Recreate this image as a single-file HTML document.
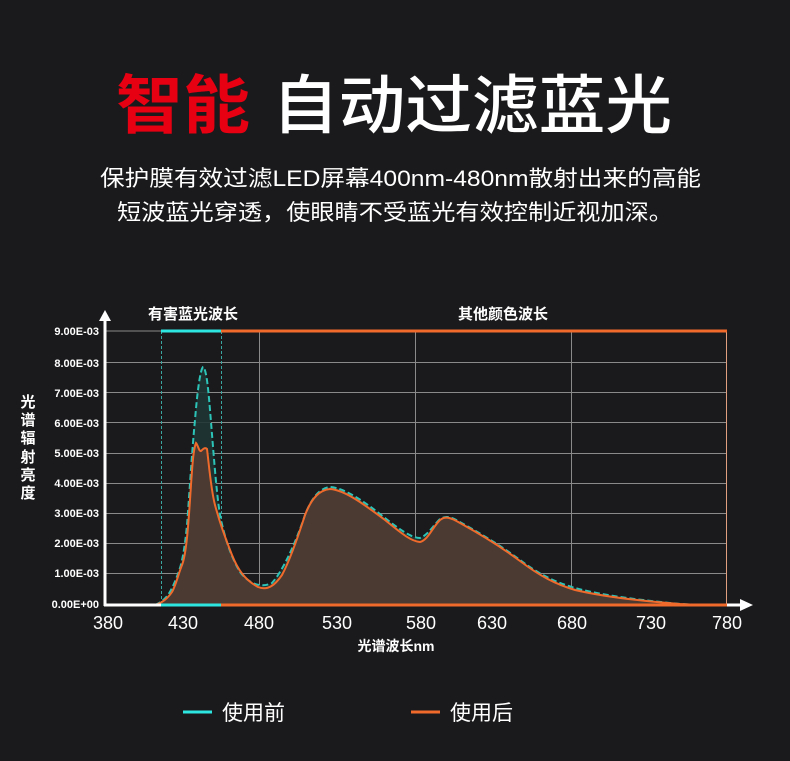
<!DOCTYPE html>
<html><head><meta charset="utf-8"><style>
html,body{margin:0;padding:0;background:#1a191b;}
svg{display:block;}
text{font-family:"Liberation Sans","Noto Sans CJK SC",sans-serif;}
</style></head><body>
<svg width="790" height="761" viewBox="0 0 790 761" xmlns="http://www.w3.org/2000/svg">
<rect width="790" height="761" fill="#1a191b"/>
<text x="116" y="128" font-size="64" font-weight="bold" fill="#e60012" textLength="134" lengthAdjust="spacingAndGlyphs">智能</text>
<text x="272" y="128" font-size="64" font-weight="500" fill="#ffffff" textLength="400" lengthAdjust="spacingAndGlyphs">自动过滤蓝光</text>
<text x="100" y="186" font-size="22" fill="#ffffff" textLength="601" lengthAdjust="spacingAndGlyphs">保护膜有效过滤LED屏幕400nm-480nm散射出来的高能</text>
<text x="117" y="220" font-size="22" fill="#ffffff" textLength="556" lengthAdjust="spacingAndGlyphs">短波蓝光穿透，使眼睛不受蓝光有效控制近视加深。</text>

<!-- grid -->
<g stroke="#8a8a8a" stroke-width="1">
<line x1="105" y1="331" x2="727" y2="331"/>
<line x1="105" y1="362.5" x2="727" y2="362.5"/>
<line x1="105" y1="392.5" x2="727" y2="392.5"/>
<line x1="105" y1="422.5" x2="727" y2="422.5"/>
<line x1="105" y1="453.5" x2="727" y2="453.5"/>
<line x1="105" y1="483.5" x2="727" y2="483.5"/>
<line x1="105" y1="513.5" x2="727" y2="513.5"/>
<line x1="105" y1="543.5" x2="727" y2="543.5"/>
<line x1="105" y1="573.5" x2="727" y2="573.5"/>
<line x1="259.5" y1="331" x2="259.5" y2="605"/>
<line x1="415.5" y1="331" x2="415.5" y2="605"/>
<line x1="571.5" y1="331" x2="571.5" y2="605"/>
<line x1="726.5" y1="331" x2="726.5" y2="605" stroke="#e0a080"/>
</g>
<g stroke="#3aa8a0" stroke-width="1" stroke-dasharray="3,2">
<line x1="161.5" y1="331" x2="161.5" y2="605"/>
<line x1="221.5" y1="331" x2="221.5" y2="605"/>
</g>

<!-- cyan (before) fill + line -->
<path d="M155,605 C160,603 164,600 168,595 C172,589 176,580 180,568 C183,558 185,545 187,525 C189,500 192,450 195,420 C197,395 200,370 203,367 C206,368 208,385 210,410 C213,445 216,490 220,515 C224,535 230,555 240,572 C250,585 262,588 272,583 C282,572 295,545 305,515 C312,497 320,488 330,487 C345,488 365,502 385,518 C400,530 412,538 420,538 C428,535 432,527 440,519 C445,516 450,516 458,521 C478,532 500,545 520,560 C540,575 555,582 575,588 C605,596 640,600 680,604 L700,605 Z" fill="#1f3534" opacity="0.9"/>
<!-- orange fill -->
<path d="M155,605 C162,603 168,598 172,592 C176,585 178,575 182,565 C186,555 188,530 190,500 C192,470 193,450 196,443 C198,445 199,452 201,451 C203,449 205,447 207,449 C209,465 211,490 215,505 C219,520 224,535 232,555 C238,570 245,580 258,587 C268,591 275,585 282,575 C290,560 297,540 305,515 C312,497 320,490 330,489 C345,490 365,505 385,520 C400,532 410,541 420,542 C428,540 432,528 440,520 C445,516 450,517 460,523 C480,534 500,546 520,561 C540,576 555,584 575,590 C605,597 640,601 680,604 L700,605 Z" fill="#4a3a31"/>
<path d="M155,605 C160,603 164,600 168,595 C172,589 176,580 180,568 C183,558 185,545 187,525 C189,500 192,450 195,420 C197,395 200,370 203,367 C206,368 208,385 210,410 C213,445 216,490 220,515 C224,535 230,555 240,572 C250,585 262,588 272,583 C282,572 295,545 305,515 C312,497 320,488 330,487 C345,488 365,502 385,518 C400,530 412,538 420,538 C428,535 432,527 440,519 C445,516 450,516 458,521 C478,532 500,545 520,560 C540,575 555,582 575,588 C605,596 640,600 680,604 L700,605" fill="none" stroke="#2cc4b8" stroke-width="2" stroke-dasharray="6,3"/>
<path d="M155,605 C162,603 168,598 172,592 C176,585 178,575 182,565 C186,555 188,530 190,500 C192,470 193,450 196,443 C198,445 199,452 201,451 C203,449 205,447 207,449 C209,465 211,490 215,505 C219,520 224,535 232,555 C238,570 245,580 258,587 C268,591 275,585 282,575 C290,560 297,540 305,515 C312,497 320,490 330,489 C345,490 365,505 385,520 C400,532 410,541 420,542 C428,540 432,528 440,520 C445,516 450,517 460,523 C480,534 500,546 520,561 C540,576 555,584 575,590 C605,597 640,601 680,604 L700,605" fill="none" stroke="#f06a2c" stroke-width="2"/>

<!-- top band -->
<line x1="161" y1="331" x2="221" y2="331" stroke="#2ee6e0" stroke-width="3"/>
<line x1="221" y1="331" x2="727" y2="331" stroke="#f06a2c" stroke-width="3"/>
<!-- bottom axis -->
<line x1="104" y1="605" x2="161" y2="605" stroke="#ffffff" stroke-width="3"/>
<line x1="161" y1="605" x2="221" y2="605" stroke="#2ee6e0" stroke-width="3"/>
<line x1="221" y1="605" x2="727" y2="605" stroke="#f06a2c" stroke-width="3"/>
<line x1="727" y1="605" x2="742" y2="605" stroke="#ffffff" stroke-width="3"/>
<polygon points="740,599 753,605 740,611" fill="#ffffff"/>
<!-- y axis -->
<line x1="105" y1="606" x2="105" y2="318" stroke="#ffffff" stroke-width="3"/>
<polygon points="99,321 105,310 111,321" fill="#ffffff"/>

<text x="193" y="319" font-size="15" font-weight="bold" fill="#ffffff" text-anchor="middle">有害蓝光波长</text>
<text x="503" y="319" font-size="15" font-weight="bold" fill="#ffffff" text-anchor="middle">其他颜色波长</text>

<g font-size="11" font-weight="bold" fill="#ffffff" text-anchor="end">
<text x="99" y="335">9.00E-03</text>
<text x="99" y="367">8.00E-03</text>
<text x="99" y="397">7.00E-03</text>
<text x="99" y="427">6.00E-03</text>
<text x="99" y="457">5.00E-03</text>
<text x="99" y="487">4.00E-03</text>
<text x="99" y="517">3.00E-03</text>
<text x="99" y="547">2.00E-03</text>
<text x="99" y="577">1.00E-03</text>
<text x="99" y="608">0.00E+00</text>
</g>
<g font-size="15" font-weight="bold" fill="#ffffff" text-anchor="middle">
<text x="28" y="407">光</text>
<text x="28" y="425">谱</text>
<text x="28" y="443">辐</text>
<text x="28" y="462">射</text>
<text x="28" y="480">亮</text>
<text x="28" y="498">度</text>
</g>
<g font-size="18" fill="#ffffff" text-anchor="middle">
<text x="108" y="629">380</text>
<text x="183" y="629">430</text>
<text x="259" y="629">480</text>
<text x="337" y="629">530</text>
<text x="421" y="629">580</text>
<text x="492" y="629">630</text>
<text x="572" y="629">680</text>
<text x="651" y="629">730</text>
<text x="727" y="629">780</text>
</g>
<text x="396" y="651" font-size="14" font-weight="bold" fill="#ffffff" text-anchor="middle">光谱波长nm</text>

<line x1="183" y1="712" x2="212" y2="712" stroke="#2ee6e0" stroke-width="3"/>
<text x="222" y="720" font-size="21" fill="#ffffff">使用前</text>
<line x1="411" y1="712" x2="440" y2="712" stroke="#f06a2c" stroke-width="3"/>
<text x="450" y="720" font-size="21" fill="#ffffff">使用后</text>
</svg>
</body></html>
